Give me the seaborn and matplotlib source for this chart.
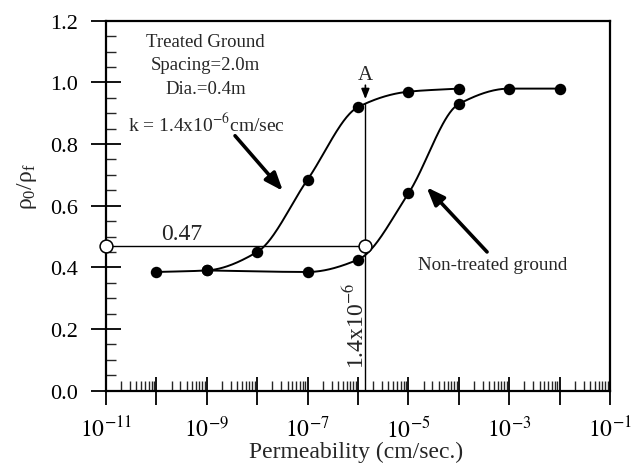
import numpy as np
import pandas as pd
import matplotlib
matplotlib.use("Agg")
import matplotlib.pyplot as plt
import seaborn as sns
from matplotlib.ticker import FixedLocator, FuncFormatter, LogLocator, MultipleLocator, NullFormatter

# Measured density ratio vs. permeability
treated_k = [1e-10, 1e-9, 1e-8, 1e-7, 1e-6, 1e-5, 1e-4]
treated_ratio = [0.385, 0.39, 0.45, 0.685, 0.92, 0.97, 0.98]
untreated_k = [1e-9, 1e-7, 1e-6, 1e-5, 1e-4, 1e-3, 1e-2]
untreated_ratio = [0.39, 0.385, 0.425, 0.64, 0.93, 0.98, 0.98]

# Design point
k_design = 1.4e-6
ratio_design = 0.47
curve_top = 0.93

x_min, x_max = 1e-11, 1e-1
decade_exponents = list(range(-11, 0))
label_exponents = [-11, -9, -7, -5, -3, -1]
y_ticks = [0.0, 0.2, 0.4, 0.6, 0.8, 1.0, 1.2]


def smooth_curve(xk, yv, n=300):
    """Monotone cubic (PCHIP) through the points, in log10(k) space."""
    x = np.log10(np.asarray(xk, float))
    y = np.asarray(yv, float)
    h = np.diff(x)
    d = np.diff(y) / h
    m = np.zeros_like(y)
    for i in range(1, len(x) - 1):
        if d[i - 1] * d[i] > 0:
            w1 = 2 * h[i] + h[i - 1]
            w2 = h[i] + 2 * h[i - 1]
            m[i] = (w1 + w2) / (w1 / d[i - 1] + w2 / d[i])
    m[0] = d[0]
    m[-1] = d[-1]
    xs = np.linspace(x[0], x[-1], n)
    idx = np.clip(np.searchsorted(x, xs) - 1, 0, len(x) - 2)
    t = (xs - x[idx]) / h[idx]
    h00 = 2 * t**3 - 3 * t**2 + 1
    h10 = t**3 - 2 * t**2 + t
    h01 = -2 * t**3 + 3 * t**2
    h11 = t**3 - t**2
    ys = h00 * y[idx] + h10 * h[idx] * m[idx] + h01 * y[idx + 1] + h11 * h[idx] * m[idx + 1]
    return 10**xs, ys


sns.set_theme(style="ticks")
plt.rcParams["font.family"] = ["Liberation Serif", "DejaVu Serif"]
plt.rcParams["mathtext.fontset"] = "stix"

fig = plt.figure(figsize=(6.33, 4.64), dpi=100)
ax = fig.add_axes([0.1675, 0.156, 0.7962, 0.797])
ax.set_xscale("log")
ax.set_xlim(x_min, x_max)
ax.set_ylim(0.0, 1.2)

df = pd.concat([
    pd.DataFrame({"k": treated_k, "ratio": treated_ratio, "ground": "Treated"}),
    pd.DataFrame({"k": untreated_k, "ratio": untreated_ratio, "ground": "Non-treated"}),
])

for xk, yv in [(treated_k, treated_ratio), (untreated_k, untreated_ratio)]:
    cx, cy = smooth_curve(xk, yv)
    ax.plot(cx, cy, color="black", lw=1.4, zorder=3)

sns.scatterplot(data=df, x="k", y="ratio", color="black", s=68, edgecolor="black",
                linewidth=0, legend=False, ax=ax, zorder=4)

# Reading of the design value
ax.plot([x_min, k_design], [ratio_design, ratio_design], color="black", lw=1.0, zorder=2)
ax.plot([k_design, k_design], [0.0, curve_top], color="black", lw=1.0, zorder=2)
ax.scatter([x_min, k_design], [ratio_design, ratio_design], s=85, facecolors="white",
           edgecolors="black", linewidths=1.1, clip_on=False, zorder=6)

ax.text(10**-9.49, ratio_design + 0.006, "0.47", ha="center", va="bottom", fontsize=17)
ax.text(10**-6.03, 0.215, r"1.4x10$^{-6}$", rotation=90, ha="center", va="center", fontsize=17)

ax.text(k_design, 1.027, "A", ha="center", va="center", fontsize=15)
ax.annotate("", xy=(k_design, 0.937), xytext=(k_design, 1.0),
            arrowprops=dict(arrowstyle="-|>,head_length=0.5,head_width=0.2", lw=1.2, color="black"))

ax.text(10**-9.03, 1.057, "Treated Ground\nSpacing=2.0m\nDia.=0.4m", ha="center", va="center",
        multialignment="center", fontsize=13.5, linespacing=1.5)
ax.text(10**-10.56, 0.866, r"k = 1.4x10$^{-6}$cm/sec", ha="left", va="center", fontsize=14)
ax.text(10**-3.32, 0.41, "Non-treated ground", ha="center", va="center", fontsize=13.7)

big_arrow = dict(arrowstyle="-|>,head_length=0.9,head_width=0.35", lw=2.6, color="black",
                 shrinkA=0, shrinkB=0)
ax.annotate("", xy=(10**-7.49, 0.648), xytext=(10**-8.44, 0.827), arrowprops=big_arrow)
ax.annotate("", xy=(10**-4.64, 0.66), xytext=(10**-3.44, 0.45), arrowprops=big_arrow)

# Axes, ticks and labels
ax.xaxis.set_major_locator(FixedLocator([10.0**e for e in decade_exponents]))
ax.xaxis.set_major_formatter(FuncFormatter(
    lambda v, pos: (r"$10^{%d}$" % round(np.log10(v))) if round(np.log10(v)) in label_exponents else ""))
ax.xaxis.set_minor_locator(LogLocator(base=10, subs=np.arange(2, 10), numticks=100))
ax.xaxis.set_minor_formatter(NullFormatter())
ax.yaxis.set_major_locator(FixedLocator(y_ticks))
ax.yaxis.set_major_formatter(FuncFormatter(lambda v, pos: f"{v:.1f}"))
ax.yaxis.set_minor_locator(MultipleLocator(0.05))

ax.tick_params(axis="x", which="major", direction="inout", length=20, width=1.3,
               labelsize=17, pad=8, colors="black")
ax.tick_params(axis="x", which="minor", direction="in", length=7, width=1.0)
ax.tick_params(axis="y", which="major", direction="inout", length=22, width=1.3,
               labelsize=16, pad=9, colors="black")
ax.tick_params(axis="y", which="minor", direction="in", length=7, width=1.0)
ax.tick_params(top=False, right=False, which="both")

for side in ["left", "bottom", "right", "top"]:
    ax.spines[side].set_visible(True)
    ax.spines[side].set_color("black")
    ax.spines[side].set_linewidth(1.6)
ax.set_facecolor("white")
ax.grid(False)

ax.set_xlabel("Permeability (cm/sec.)", fontsize=17)
ax.xaxis.set_label_coords(0.497, -0.137)
ax.set_ylabel(r"$\mathregular{\rho_0/\rho_f}$", fontsize=17)
ax.yaxis.set_label_coords(-0.133, 0.555)

fig.savefig("out.png", dpi=100, facecolor="white")
